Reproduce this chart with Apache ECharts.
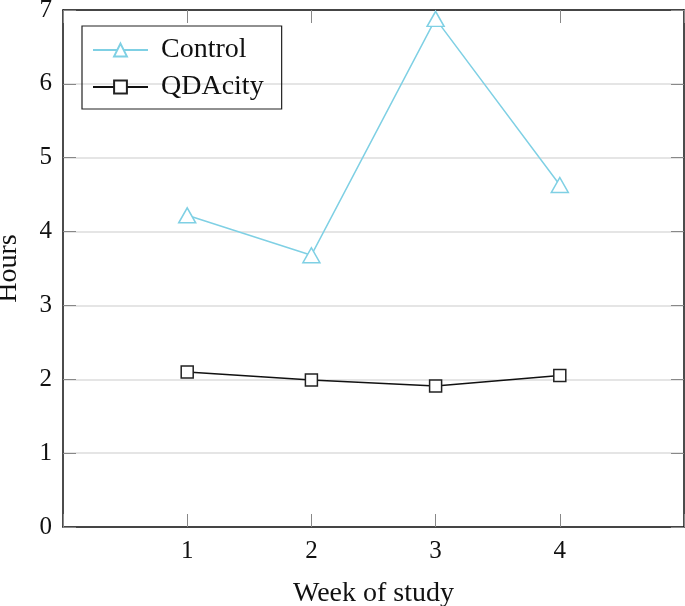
<!DOCTYPE html>
<html>
<head>
<meta charset="utf-8">
<script src="https://cdn.jsdelivr.net/npm/echarts@6/dist/echarts.min.js"></script>
<style>
  html, body { margin: 0; padding: 0; background: #fff; }
  #chart { width: 685px; height: 606px; }
</style>
</head>
<body>
<div id="chart"></div>
<script>
var weeks = [1, 2, 3, 4]
var control = [4.22, 3.68, 6.88, 4.63]
var qdacity = [2.10, 1.99, 1.91, 2.05]
var yTicks = [0, 1, 2, 3, 4, 5, 6, 7]

var font = 'Liberation Serif'
var cyan = '#7fd0e4'

function pairs (xs, ys) {
  return xs.map(function (x, i) { return [x, ys[i]] })
}

var tickStyle = { show: true, inside: true, length: 13, lineStyle: { color: '#888', width: 1 } }

var option = {
  animation: false,
  backgroundColor: '#fff',
  textStyle: { fontFamily: font },
  grid: { left: 63, right: 1, top: 10, bottom: 79, containLabel: false, outerBoundsMode: 'none' },
  legend: {
    orient: 'vertical',
    left: 82,
    top: 26,
    padding: [10, 18, 8, 10],
    itemGap: 9,
    itemWidth: 55,
    itemHeight: 16,
    borderColor: '#222',
    borderWidth: 1.2,
    textStyle: { fontFamily: font, fontSize: 28, color: '#111', padding: [0, 0, 0, 8] },
    data: ['Control', 'QDAcity']
  },
  xAxis: [
    {
      type: 'value', min: 0, max: 5, interval: 1,
      name: 'Week of study', nameLocation: 'middle', nameGap: 53,
      nameTextStyle: { fontFamily: font, fontSize: 28, color: '#111' },
      axisLine: { show: true, onZero: false, lineStyle: { color: '#111', width: 1.5 } },
      axisTick: tickStyle,
      axisLabel: {
        fontFamily: font, fontSize: 25, color: '#111', margin: 12,
        formatter: function (v) { return weeks.indexOf(v) >= 0 ? String(v) : '' }
      },
      splitLine: { show: false }
    },
    {
      type: 'value', position: 'top', min: 0, max: 5, interval: 1,
      axisLine: { show: true, onZero: false, lineStyle: { color: '#111', width: 1.5 } },
      axisTick: tickStyle,
      axisLabel: { show: false },
      splitLine: { show: false }
    }
  ],
  yAxis: [
    {
      type: 'value', min: 0, max: 7, interval: 1,
      name: 'Hours', nameLocation: 'middle', nameGap: 40, nameRotate: 90,
      nameTextStyle: { fontFamily: font, fontSize: 28, color: '#111' },
      axisLine: { show: true, onZero: false, lineStyle: { color: '#111', width: 1.5 } },
      axisTick: tickStyle,
      axisLabel: {
        fontFamily: font, fontSize: 25, color: '#111', margin: 11,
        formatter: function (v) { return yTicks.indexOf(v) >= 0 ? String(v) : '' }
      },
      splitLine: { show: true, lineStyle: { color: '#dcdcdc', width: 1.5 } }
    },
    {
      type: 'value', position: 'right', min: 0, max: 7, interval: 1,
      axisLine: { show: true, onZero: false, lineStyle: { color: '#111', width: 1.5 } },
      axisTick: tickStyle,
      axisLabel: { show: false },
      splitLine: { show: false }
    }
  ],
  series: [
    {
      name: 'Control',
      type: 'line',
      data: pairs(weeks, control),
      symbol: 'triangle',
      symbolSize: [17, 15],
      lineStyle: { color: cyan, width: 1.5 },
      itemStyle: { color: '#fff', borderColor: cyan, borderWidth: 1.5 },
      z: 3
    },
    {
      name: 'QDAcity',
      type: 'line',
      data: pairs(weeks, qdacity),
      symbol: 'rect',
      symbolSize: 12,
      lineStyle: { color: '#111', width: 1.5 },
      itemStyle: { color: '#fff', borderColor: '#222', borderWidth: 1.5 },
      z: 3
    }
  ]
}

var chart = echarts.init(document.getElementById('chart'))
chart.setOption(option)
</script>
</body>
</html>
